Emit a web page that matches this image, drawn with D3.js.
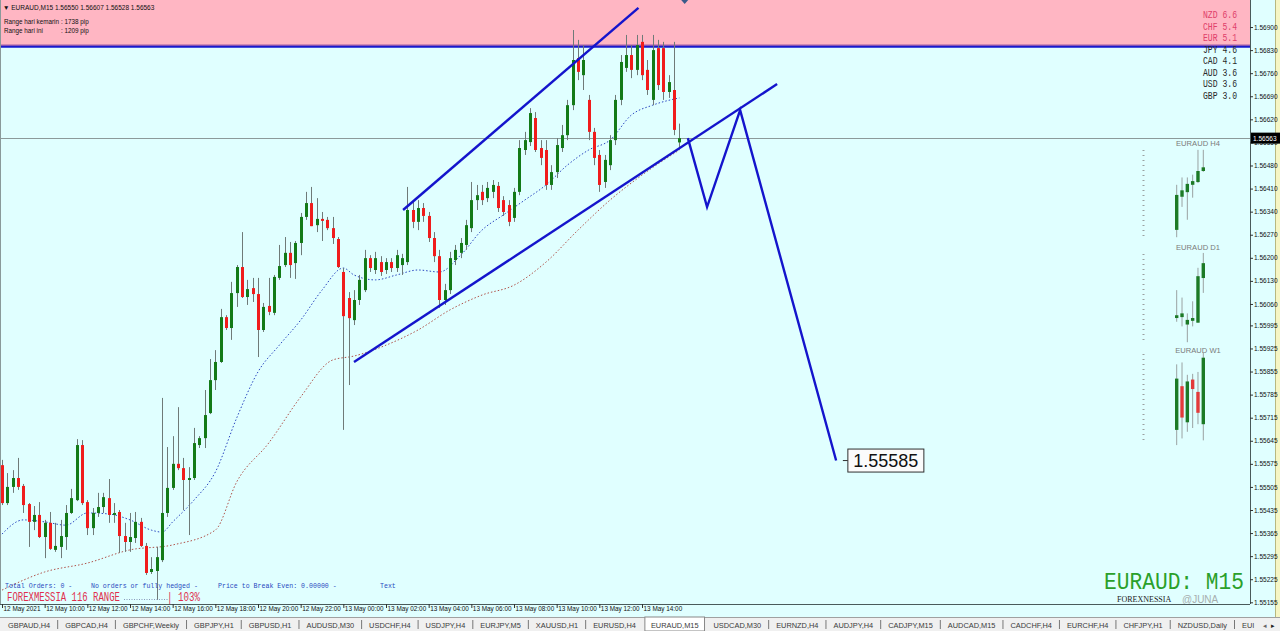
<!DOCTYPE html>
<html>
<head>
<meta charset="utf-8">
<script src="https://cdn.jsdelivr.net/npm/d3@7/dist/d3.min.js"></script>
<style>
html,body{margin:0;padding:0;background:#ffffff;overflow:hidden;}
svg{display:block;}
</style>
</head>
<body>
<svg id="chart" width="1280" height="631"></svg>
<script>
// ================= DATA =================
const firstBarTime = "2021-05-12 08:00";
const openP = [1.55571,1.55456,1.55505,1.55532,1.55508,1.55453,1.55399,1.55420,1.55353,1.55396,
1.55314,1.55323,1.55353,1.55426,1.55465,1.55632,1.55459,1.55380,1.55426,1.55444,
1.55471,1.55420,1.55429,1.55356,1.55338,1.55350,1.55399,1.55326,1.55247,1.55250,
1.55283,1.55426,1.55502,1.55575,1.55562,1.55526,1.55532,1.55632,1.55653,1.55729,
1.55829,1.55884,1.56020,1.55987,1.56093,1.56172,1.56081,1.56108,1.56090,1.55981,
1.56054,1.56033,1.56139,1.56178,1.56215,1.56184,1.56245,1.56324,1.56366,1.56299,
1.56318,1.56315,1.56290,1.56257,1.56157,1.56078,1.56011,1.56072,1.56102,1.56199,
1.56163,1.56187,1.56163,1.56187,1.56169,1.56178,1.56187,1.56345,1.56309,1.56351,
1.56327,1.56260,1.56205,1.56072,1.56102,1.56193,1.56215,1.56239,1.56290,1.56375,
1.56400,1.56381,1.56400,1.56418,1.56375,1.56360,1.56321,1.56400,1.56527,1.56551,
1.56624,1.56533,1.56527,1.56421,1.56460,1.56533,1.56572,1.56663,1.56806,1.56754,
1.56679,1.56582,1.56512,1.56430,1.56481,1.56557,1.56679,1.56776,1.56815,1.56770,
1.56855,1.56770,1.56679,1.56836,1.56836,1.56703,1.56709,1.56550];
const highP = [1.55587,1.55547,1.55556,1.55593,1.55514,1.55456,1.55447,1.55459,1.55405,1.55429,
1.55396,1.55405,1.55450,1.55499,1.55650,1.55647,1.55465,1.55441,1.55487,1.55487,
1.55529,1.55456,1.55435,1.55396,1.55426,1.55429,1.55411,1.55335,1.55292,1.55323,
1.55775,1.55626,1.55659,1.55747,1.55593,1.55565,1.55684,1.55659,1.55799,1.55893,
1.55920,1.56045,1.56026,1.56127,1.56178,1.56278,1.56133,1.56139,1.56139,1.56063,
1.56139,1.56148,1.56239,1.56263,1.56248,1.56251,1.56336,1.56400,1.56415,1.56381,
1.56339,1.56324,1.56324,1.56263,1.56169,1.56096,1.56102,1.56148,1.56224,1.56208,
1.56218,1.56205,1.56199,1.56199,1.56224,1.56212,1.56415,1.56375,1.56375,1.56366,
1.56339,1.56278,1.56224,1.56121,1.56218,1.56239,1.56260,1.56315,1.56430,1.56421,
1.56421,1.56430,1.56436,1.56430,1.56387,1.56375,1.56412,1.56557,1.56582,1.56654,
1.56642,1.56557,1.56557,1.56481,1.56563,1.56603,1.56679,1.56891,1.56861,1.56845,
1.56694,1.56594,1.56527,1.56512,1.56572,1.56694,1.56815,1.56876,1.56845,1.56876,
1.56876,1.56800,1.56876,1.56861,1.56855,1.56754,1.56855,1.56607];
const lowP = [1.55450,1.55450,1.55487,1.55496,1.55426,1.55323,1.55374,1.55350,1.55289,1.55314,
1.55308,1.55289,1.55314,1.55423,1.55462,1.55450,1.55359,1.55359,1.55414,1.55426,
1.55396,1.55396,1.55305,1.55308,1.55308,1.55335,1.55323,1.55238,1.55241,1.55162,
1.55277,1.55414,1.55496,1.55556,1.55435,1.55359,1.55526,1.55623,1.55623,1.55726,
1.55799,1.55881,1.55981,1.55951,1.56051,1.56078,1.56057,1.56066,1.55899,1.55975,
1.56026,1.56026,1.56133,1.56172,1.56139,1.56136,1.56208,1.56315,1.56296,1.56278,
1.56251,1.56284,1.56242,1.56169,1.55678,1.55814,1.55996,1.56057,1.56096,1.56157,
1.56151,1.56145,1.56151,1.56157,1.56157,1.56148,1.56178,1.56290,1.56284,1.56309,
1.56248,1.56187,1.56048,1.56057,1.56090,1.56178,1.56199,1.56224,1.56278,1.56345,
1.56360,1.56369,1.56381,1.56339,1.56327,1.56296,1.56309,1.56390,1.56512,1.56539,
1.56521,1.56481,1.56406,1.56406,1.56442,1.56521,1.56557,1.56648,1.56739,1.56709,
1.56557,1.56481,1.56400,1.56412,1.56466,1.56542,1.56663,1.56764,1.56745,1.56754,
1.56739,1.56694,1.56663,1.56709,1.56679,1.56685,1.56572,1.56528];
const closeP = [1.55456,1.55505,1.55532,1.55505,1.55450,1.55399,1.55420,1.55353,1.55396,1.55317,
1.55326,1.55356,1.55426,1.55471,1.55632,1.55456,1.55380,1.55426,1.55444,1.55474,
1.55420,1.55426,1.55356,1.55338,1.55353,1.55399,1.55326,1.55244,1.55256,1.55292,
1.55426,1.55502,1.55575,1.55562,1.55526,1.55532,1.55638,1.55653,1.55723,1.55829,
1.55884,1.56020,1.55987,1.56093,1.56172,1.56081,1.56105,1.56090,1.55981,1.56051,
1.56036,1.56142,1.56175,1.56215,1.56178,1.56245,1.56324,1.56366,1.56296,1.56318,
1.56312,1.56290,1.56260,1.56172,1.56023,1.56017,1.56072,1.56133,1.56199,1.56169,
1.56199,1.56157,1.56187,1.56169,1.56208,1.56199,1.56345,1.56309,1.56351,1.56327,
1.56260,1.56205,1.56072,1.56102,1.56199,1.56224,1.56245,1.56299,1.56375,1.56390,
1.56375,1.56412,1.56421,1.56351,1.56339,1.56309,1.56400,1.56533,1.56557,1.56639,
1.56527,1.56503,1.56421,1.56460,1.56542,1.56572,1.56663,1.56800,1.56764,1.56800,
1.56582,1.56503,1.56421,1.56497,1.56557,1.56679,1.56794,1.56815,1.56770,1.56845,
1.56754,1.56709,1.56830,1.56724,1.56703,1.56733,1.56588,1.56563];

// moving averages: [bar index, price]
const maFast = [[0,1.55362],[4,1.55405],[8,1.55399],[12,1.55389],[16,1.55426],[20,1.55423],[24,1.55405],
[28,1.55374],[30,1.55368],[32,1.55399],[36,1.55465],[40,1.55550],[44,1.55714],[48,1.55854],[52,1.55935],
[56,1.56011],[60,1.56102],[64,1.56169],[66,1.56148],[70,1.56133],[74,1.56148],[78,1.56163],[82,1.56157],
[86,1.56208],[90,1.56284],[94,1.56330],[98,1.56375],[102,1.56421],[106,1.56481],[110,1.56527],[114,1.56557],
[118,1.56633],[122,1.56663],[127,1.56685]];
const maSlow = [[0,1.55192],[8,1.55247],[16,1.55274],[24,1.55314],[32,1.55329],[40,1.55374],[44,1.55520],
[50,1.55638],[56,1.55778],[62,1.55890],[66,1.55902],[72,1.55935],[78,1.55981],[84,1.56042],[90,1.56087],
[96,1.56117],[102,1.56187],[108,1.56284],[114,1.56375],[120,1.56451],[127,1.56527]];

// drawn objects (time, price)
const channelUpper = [["2021-05-13 02:48",1.56345],["2021-05-13 13:50",1.56958]];
const channelLower = [["2021-05-13 00:30",1.55884],["2021-05-13 20:20",1.56727]];
const projection = [["2021-05-13 16:09",1.56563],["2021-05-13 17:03",1.56354],["2021-05-13 18:36",1.56648],["2021-05-13 23:06",1.55585]];
const targetLabel = {time:"2021-05-13 23:39", price:1.55585, text:"1.55585"};
const zoneRect = [1.56842, 1.57100];
const resistanceLine = 1.56842;
const currentPrice = 1.56563;

const priceTicks = ["1.56900","1.56830","1.56760","1.56690","1.56620","1.56550","1.56480","1.56410","1.56340",
"1.56270","1.56200","1.56130","1.56060","1.55995","1.55925","1.55855","1.55785","1.55715","1.55645","1.55575",
"1.55505","1.55435","1.55365","1.55295","1.55225","1.55155"];
const timeTicks = ["2021-05-12 08:00","2021-05-12 10:00","2021-05-12 12:00","2021-05-12 14:00","2021-05-12 16:00",
"2021-05-12 18:00","2021-05-12 20:00","2021-05-12 22:00","2021-05-13 00:00","2021-05-13 02:00","2021-05-13 04:00",
"2021-05-13 06:00","2021-05-13 08:00","2021-05-13 10:00","2021-05-13 12:00","2021-05-13 14:00"];
const timeTickLabels = ["12 May 2021","12 May 10:00","12 May 12:00","12 May 14:00","12 May 16:00","12 May 18:00",
"12 May 20:00","12 May 22:00","13 May 00:00","13 May 02:00","13 May 04:00","13 May 06:00","13 May 08:00",
"13 May 10:00","13 May 12:00","13 May 14:00"];

const headerLine = "EURAUD,M15  1.56550 1.56607 1.56528 1.56563";
const rangeLabels = ["Range hari kemarin", "Range hari ini"];
const rangeValues = ["1738 pip", "1209 pip"];

const strengthCcy = ["NZD","CHF","EUR","JPY","CAD","AUD","USD","GBP"];
const strengthVal = ["6.6","5.4","5.1","4.6","4.1","3.6","3.6","3.0"];

// mini multi-timeframe candles (relative units 0-100 in each panel)
const miniTitles = ["EURAUD H4","EURAUD D1","EURAUD W1"];
const miniO = [[11,47,52,60,63,75],[29,30,22,26,24,72],[18,64,26,71,58,24]];
const miniH = [[60,68,68,71,98,98],[59,51,34,47,83,99],[87,89,76,77,79,99]];
const miniL = [[3,36,22,46,62,74],[25,20,3,20,24,56],[2,9,16,20,24,7]];
const miniC = [[49,54,61,64,75,79],[32,34,27,29,74,88],[72,31,69,61,36,94]];

const tabs = ["GBPAUD,H4","GBPCAD,H4","GBPCHF,Weekly","GBPJPY,H1","GBPUSD,H1","AUDUSD,M30","USDCHF,H4",
"USDJPY,H4","EURJPY,M5","XAUUSD,H1","EURUSD,H4","EURAUD,M15","USDCAD,M30","EURNZD,H4","AUDJPY,H4",
"CADJPY,M15","AUDCAD,M15","CADCHF,H4","EURCHF,H4","CHFJPY,H1","NZDUSD,Daily","EUI"];
const activeTab = "EURAUD,M15";

const infoTexts = ["Total Orders: 0 -","No orders or fully hedged -","Price to Break Even: 0.00000 -","Text"];
const rangeTitle = "FOREXMESSIA 116 RANGE";
const rangePct = "| 103%";
const bigSymbol = "EURAUD: M15";
const brand = "FOREXNESSIA";

// ================= LAYOUT / SCALES =================
const W = 1280, H = 631, PW = 1250, PH = 604;
const BAR = 15*60*1000;
const parseT = d3.utcParse("%Y-%m-%d %H:%M");
const t0 = parseT(firstBarTime);
const barsInView = 234;
const x = d3.scaleUtc().domain([t0, new Date(+t0 + barsInView*BAR)]).range([2, PW]);
const bx = i => x(new Date(+t0 + i*BAR));
const y = d3.scaleLinear().domain([1.56982, 1.55162]).range([0, 600]);

const svg = d3.select("#chart");
const FONT = "'Liberation Sans', Arial, sans-serif";
const MONO = "'Liberation Mono', 'DejaVu Sans Mono', monospace";

svg.append("rect").attr("width", W).attr("height", H).attr("fill", "#E0FFFF");

const defs = svg.append("defs");
defs.append("clipPath").attr("id","plotClip").append("rect").attr("x",0).attr("y",0).attr("width",PW).attr("height",PH);
const plot = svg.append("g").attr("clip-path","url(#plotClip)");

// pink zone
plot.append("rect").attr("x",0).attr("width",PW)
  .attr("y", y(zoneRect[1])).attr("height", y(zoneRect[0]) - y(zoneRect[1]))
  .attr("fill","#FFB6C3");
// resistance line
plot.append("line").attr("x1",0).attr("x2",PW).attr("y1",y(resistanceLine)-1).attr("y2",y(resistanceLine)-1)
  .attr("stroke","#7a3aa0").attr("stroke-width",1);
plot.append("line").attr("x1",0).attr("x2",PW).attr("y1",y(resistanceLine)+0.5).attr("y2",y(resistanceLine)+0.5)
  .attr("stroke","#1a1acc").attr("stroke-width",2);

// current price line
plot.append("line").attr("x1",0).attr("x2",PW).attr("y1",Math.round(y(currentPrice))+0.5).attr("y2",Math.round(y(currentPrice))+0.5)
  .attr("stroke","#8c9a9a").attr("stroke-width",1);

// moving averages
const maLine = d3.line().x(d => bx(d[0])).y(d => y(d[1])).curve(d3.curveMonotoneX);
plot.append("path").attr("d", maLine(maSlow)).attr("fill","none").attr("stroke","#b0524a")
  .attr("stroke-width",1).attr("stroke-dasharray","1.5,2");
plot.append("path").attr("d", maLine(maFast)).attr("fill","none").attr("stroke","#2a46c0")
  .attr("stroke-width",1).attr("stroke-dasharray","1.5,2");

// candles
const candles = openP.map((o,i) => ({i, o, h:highP[i], l:lowP[i], c:closeP[i]}));
const cg = plot.append("g");
cg.selectAll("line.wick").data(candles).join("line")
  .attr("x1", d => Math.round(bx(d.i))+0.5).attr("x2", d => Math.round(bx(d.i))+0.5)
  .attr("y1", d => y(d.h)).attr("y2", d => y(d.l))
  .attr("stroke","#6f7a78").attr("stroke-width",1);
cg.selectAll("rect.body").data(candles).join("rect")
  .attr("x", d => Math.round(bx(d.i)) - 1)
  .attr("width", 3)
  .attr("y", d => y(Math.max(d.o,d.c)))
  .attr("height", d => Math.max(1.2, Math.abs(y(d.o) - y(d.c))))
  .attr("fill", d => d.c >= d.o ? "#137a17" : "#f01c1c");

// trend lines
const tl = d3.line().x(d => x(parseT(d[0]))).y(d => y(d[1]));
[channelUpper, channelLower, projection].forEach(pts => {
  plot.append("path").attr("d", tl(pts)).attr("fill","none").attr("stroke","#1414cc")
    .attr("stroke-width",2.4).attr("stroke-linejoin","miter");
});

// target label
const lx = x(parseT(targetLabel.time)), ly = y(targetLabel.price);
plot.append("line").attr("x1",lx-5).attr("x2",lx).attr("y1",ly).attr("y2",ly).attr("stroke","#303030");
plot.append("rect").attr("x",lx).attr("y",ly-11.5).attr("width",76).attr("height",23)
  .attr("fill","#fbfbfb").attr("stroke","#303030").attr("stroke-width",1);
plot.append("text").attr("x",lx+38).attr("y",ly+6.5).attr("text-anchor","middle")
  .attr("font-family",FONT).attr("font-size",18).attr("fill","#111").text(targetLabel.text);

// shift marker
plot.append("path").attr("d", d3.line()([[bx(128)-3.5,0],[bx(128)+3.5,0],[bx(128),4]]))
  .attr("fill","#3a5a8a");

// header texts
const hdr = svg.append("g").attr("font-family",FONT).attr("fill","#111");
hdr.append("text").attr("x",3).attr("y",10).attr("font-size",6.5).text("\u25BC " + headerLine);
rangeLabels.forEach((lab,k) => {
  hdr.append("text").attr("x",4).attr("y",24 + k*9).attr("font-size",6.3).text(lab);
  hdr.append("text").attr("x",61).attr("y",24 + k*9).attr("font-size",6.3).text(": " + rangeValues[k]);
});

// currency strength
const sg = svg.append("g").attr("font-family",MONO);
strengthCcy.forEach((c,k) => {
  sg.append("text").attr("x",1203).attr("y",18 + k*11.5).attr("font-size",10.5)
    .attr("textLength",34).attr("lengthAdjust","spacingAndGlyphs")
    .attr("fill", k < 3 ? "#e0406a" : "#2a2a2a").text(c + " " + strengthVal[k]);
});

// mini panels
const miniRanges = [[240,148],[345,252],[447,352]];
const miniTitleY = [146,250,353];
const mx = d3.scaleLinear().domain([0,5]).range([1176.7,1203.3]);
miniTitles.forEach((t,p) => {
  const my = d3.scaleLinear().domain([0,100]).range(miniRanges[p]);
  const g = svg.append("g");
  g.append("text").attr("x",1198).attr("y",miniTitleY[p]).attr("text-anchor","middle")
    .attr("font-family",FONT).attr("font-size",7.6).attr("fill","#7a7a7a").text(t);
  g.append("line").attr("x1",1143.5).attr("x2",1143.5).attr("y1",miniRanges[p][1]+2).attr("y2",miniRanges[p][0]-3)
    .attr("stroke","#9aa0a0").attr("stroke-width",2).attr("stroke-dasharray","1,4");
  const data = miniO[p].map((o,j) => ({j,o,h:miniH[p][j],l:miniL[p][j],c:miniC[p][j]}));
  g.selectAll("line.w").data(data).join("line")
    .attr("x1", d => mx(d.j)).attr("x2", d => mx(d.j)).attr("y1", d => my(d.h)).attr("y2", d => my(d.l))
    .attr("stroke","#9aa2a2").attr("stroke-width",1);
  g.selectAll("rect.b").data(data).join("rect")
    .attr("x", d => mx(d.j)-1.7).attr("width",3.4)
    .attr("y", d => my(Math.max(d.o,d.c))).attr("height", d => Math.max(1.5, Math.abs(my(d.o)-my(d.c))))
    .attr("fill", d => d.c >= d.o ? "#1c7a26" : "#e23a3a");
});

// bottom-left info
const ig = svg.append("g").attr("font-family",MONO).attr("font-size",6.6).attr("fill","#2a4ac0");
const infoX = [5,91,218,380];
infoTexts.forEach((t,k) => ig.append("text").attr("x",infoX[k]).attr("y",588).text(t));
svg.append("text").attr("x",7).attr("y",601).attr("font-family",MONO).attr("font-size",12)
  .attr("textLength",113).attr("lengthAdjust","spacingAndGlyphs").attr("fill","#e0304e").text(rangeTitle);
svg.append("line").attr("x1",124).attr("x2",168).attr("y1",599.5).attr("y2",599.5)
  .attr("stroke","#8899bb").attr("stroke-width",1).attr("stroke-dasharray","1,1.5");
svg.append("text").attr("x",167).attr("y",601).attr("font-family",MONO).attr("font-size",12)
  .attr("textLength",33).attr("lengthAdjust","spacingAndGlyphs").attr("fill","#e0304e").text(rangePct);

// bottom right symbol
svg.append("text").attr("x",1104).attr("y",589).attr("font-family",MONO).attr("font-size",24)
  .attr("textLength",140).attr("lengthAdjust","spacingAndGlyphs").attr("fill","#2aa02a").text(bigSymbol);
svg.append("text").attr("x",1117).attr("y",602).attr("font-family","'Liberation Serif', serif").attr("font-size",8)
  .attr("fill","#222").text(brand);
svg.append("text").attr("x",1182).attr("y",603).attr("font-family",FONT).attr("font-size",10)
  .attr("fill","#9a9a9a").attr("opacity",0.8).text("@JUNA");

// axes
svg.append("line").attr("x1",PW+0.5).attr("x2",PW+0.5).attr("y1",0).attr("y2",PH).attr("stroke","#4a5a5a");
svg.append("line").attr("x1",0).attr("x2",PW).attr("y1",PH+0.5).attr("y2",PH+0.5).attr("stroke","#4a5a5a");
svg.append("line").attr("x1",0.5).attr("x2",0.5).attr("y1",0).attr("y2",PH).attr("stroke","#8a9a9a");

// right yellow strip (drawn before the price label)
svg.append("rect").attr("x",1276).attr("y",0).attr("width",4).attr("height",617).attr("fill","#f6f6c4");
svg.append("line").attr("x1",1275.5).attr("x2",1275.5).attr("y1",0).attr("y2",617).attr("stroke","#b8b880");

const yAxis = d3.axisRight(y).tickValues(priceTicks.map(Number)).tickFormat((d,i) => priceTicks[i]).tickSize(3).tickPadding(1);
const ya = svg.append("g").attr("transform",`translate(${PW},0)`).call(yAxis);
ya.select(".domain").remove();
ya.selectAll("line").attr("stroke","#333");
ya.selectAll("text").attr("font-family",FONT).attr("font-size",6.5).attr("fill","#111");

const xAxis = d3.axisBottom(x).tickValues(timeTicks.map(parseT)).tickFormat((d,i) => timeTickLabels[i]).tickSize(4);
const xa = svg.append("g").attr("transform",`translate(0,${PH})`).call(xAxis);
xa.select(".domain").remove();
xa.selectAll("line").attr("stroke","#333");
xa.selectAll("text").attr("font-family",FONT).attr("font-size",6.4).attr("fill","#111")
  .attr("text-anchor","start").attr("x",1).attr("dy","0.55em").attr("y",3);

// current price label on axis
const cpY = y(currentPrice);
svg.append("rect").attr("x",PW+1).attr("y",cpY-5.5).attr("width",29).attr("height",11).attr("fill","#000");
svg.append("text").attr("x",PW+3).attr("y",cpY+2.5).attr("font-family",FONT).attr("font-size",6.5)
  .attr("fill","#fff").text(d3.format(".5f")(currentPrice));

// tab bar
const tb = svg.append("g");
tb.append("rect").attr("x",0).attr("y",617).attr("width",W).attr("height",14).attr("fill","#f0f0f0");
tb.append("line").attr("x1",0).attr("x2",W).attr("y1",617.5).attr("y2",617.5).attr("stroke","#a0a0a0");
let tx = 8;
tabs.forEach((t,k) => {
  const txt = tb.append("text").attr("x",tx).attr("y",628).attr("font-family",FONT).attr("font-size",7.4)
    .attr("fill","#3a3a3a").text(t);
  const w = txt.node().getComputedTextLength();
  if (t === activeTab) {
    tb.insert("rect","text").attr("x",tx-6).attr("y",617).attr("width",w+12).attr("height",14)
      .attr("fill","#ffffff").attr("stroke","#888");
  } else if (k < tabs.length-1 && tabs[k+1] !== activeTab) {
    tb.append("line").attr("x1",tx+w+7.5).attr("x2",tx+w+7.5).attr("y1",620).attr("y2",629).attr("stroke","#777");
  }
  tx += w + 15;
});
tb.append("text").attr("x",1263).attr("y",628).attr("font-family",FONT).attr("font-size",7).attr("fill","#666").text("\u25C2");
tb.append("text").attr("x",1271).attr("y",628).attr("font-family",FONT).attr("font-size",7).attr("fill","#222").text("\u25B8");
</script>
</body>
</html>
